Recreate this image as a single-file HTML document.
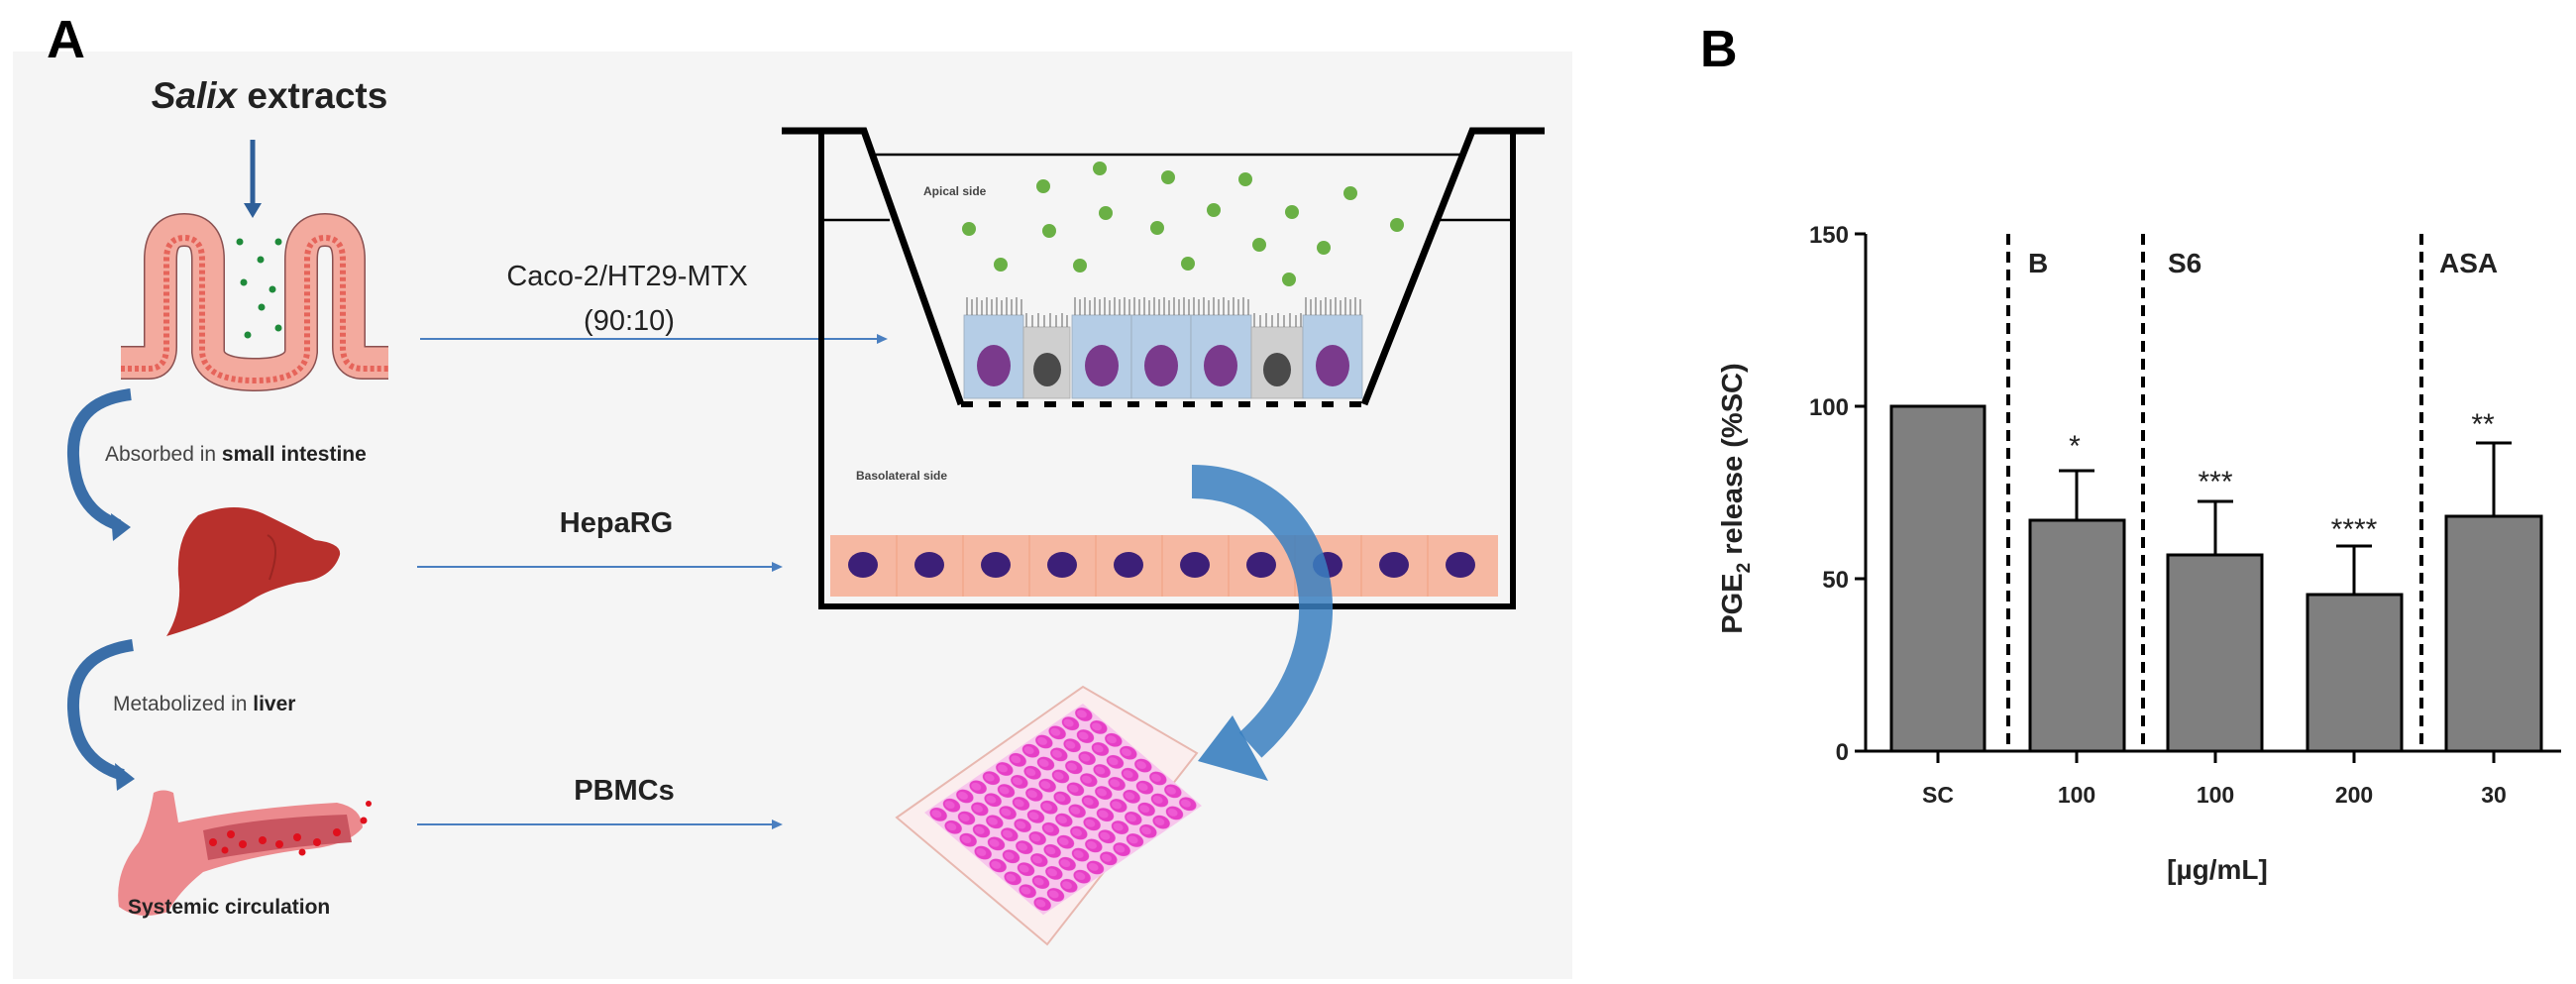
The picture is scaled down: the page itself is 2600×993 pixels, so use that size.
<!DOCTYPE html>
<html><head><meta charset="utf-8"><style>
html,body{margin:0;padding:0;background:#fff;}
svg{display:block;}
.a{font-family:"Liberation Sans",sans-serif;}
</style></head><body>
<svg width="2600" height="993" viewBox="0 0 2600 993" xmlns="http://www.w3.org/2000/svg" class="a">
<defs>
<pattern id="wells" patternUnits="userSpaceOnUse" width="1" height="1">
<rect width="1" height="1" fill="#f7c6ec"/>
<circle cx="0.5" cy="0.5" r="0.43" fill="#e63fc6"/>
<circle cx="0.45" cy="0.42" r="0.25" fill="#ee5ad3"/>
</pattern>
</defs>
<rect x="13" y="52" width="1574" height="936" fill="#f5f5f5"/>
<text x="47" y="58" font-size="54" font-weight="bold" fill="#000">A</text>

<text x="272" y="109" font-size="37" font-weight="bold" text-anchor="middle" fill="#222"><tspan font-style="italic">Salix</tspan> extracts</text>
<line x1="255" y1="141" x2="255" y2="208" stroke="#2e5f99" stroke-width="5"/>
<polygon points="246,205 264,205 255,220" fill="#2e5f99"/>

<path d="M122,366 L150,366 Q162,366 162,350 L162,262 Q162,232 186,232 Q210,232 210,262 L210,355 Q212,378 257,378 Q302,378 304,355 L304,262 Q304,232 328,232 Q352,232 352,262 L352,350 Q352,366 366,366 L392,366" fill="none" stroke="#8a5050" stroke-width="34"/>
<path d="M122,366 L150,366 Q162,366 162,350 L162,262 Q162,232 186,232 Q210,232 210,262 L210,355 Q212,378 257,378 Q302,378 304,355 L304,262 Q304,232 328,232 Q352,232 352,262 L352,350 Q352,366 366,366 L392,366" fill="none" stroke="#f3aa9e" stroke-width="31"/>
<path d="M122,372 L150,372 Q168,372 168,350 L168,262 Q168,240 186,240 Q204,240 204,262 L204,355 Q206,384 257,384 Q308,384 310,355 L310,262 Q310,240 328,240 Q346,240 346,262 L346,350 Q346,372 366,372 L392,372" fill="none" stroke="#e6645a" stroke-width="6" stroke-dasharray="4 3"/>
<g fill="#1f8a3a"><circle cx="242" cy="244" r="3.5"/><circle cx="281" cy="244" r="3.5"/><circle cx="263" cy="262" r="3.5"/><circle cx="246" cy="285" r="3.5"/><circle cx="275" cy="292" r="3.5"/><circle cx="264" cy="310" r="3.5"/><circle cx="250" cy="338" r="3.5"/><circle cx="281" cy="331" r="3.5"/></g>

<path d="M132,398 Q72,405 74,460 Q76,515 120,530" fill="none" stroke="#3a6ea8" stroke-width="12"/>
<polygon points="112,518 132,532 114,546" fill="#3a6ea8"/>
<text x="106" y="465" font-size="21" fill="#444">Absorbed in <tspan font-weight="bold" fill="#222">small intestine</tspan></text>

<path d="M200,520 Q235,505 265,518 Q300,535 318,545 Q345,548 343,560 Q335,585 300,588 Q270,595 255,605 Q225,625 168,642 Q185,615 180,580 Q178,540 200,520 Z" fill="#b8302c"/>
<path d="M270,540 Q285,548 272,585" fill="none" stroke="#9a2622" stroke-width="2"/>

<path d="M134,651 Q72,660 74,715 Q76,768 124,782" fill="none" stroke="#3a6ea8" stroke-width="12"/>
<polygon points="116,770 136,786 118,798" fill="#3a6ea8"/>
<text x="114" y="717" font-size="21" fill="#444">Metabolized in <tspan font-weight="bold" fill="#222">liver</tspan></text>

<path d="M155,800 Q165,795 175,800 L180,830 Q250,815 340,810 Q365,815 366,835 Q350,855 300,858 Q250,865 205,880 Q180,900 170,920 Q140,930 120,915 Q115,880 140,850 Q150,830 155,800 Z" fill="#ec8a8e"/>
<path d="M205,838 Q260,825 350,822 L355,850 Q280,855 210,868 Z" fill="#c95560"/>
<g fill="#e0101c"><circle cx="215" cy="850" r="4"/><circle cx="233" cy="842" r="4"/><circle cx="245" cy="852" r="4"/><circle cx="265" cy="848" r="4"/><circle cx="282" cy="852" r="4"/><circle cx="300" cy="845" r="4"/><circle cx="320" cy="850" r="4"/><circle cx="340" cy="840" r="4"/><circle cx="367" cy="828" r="3.5"/><circle cx="372" cy="811" r="3"/><circle cx="227" cy="858" r="3.5"/><circle cx="305" cy="860" r="3.5"/></g>
<text x="129" y="922" font-size="21" font-weight="bold" fill="#222">Systemic circulation</text>

<text x="633" y="288" font-size="29" text-anchor="middle" fill="#222">Caco-2/HT29-MTX</text>
<text x="635" y="333" font-size="29" text-anchor="middle" fill="#222">(90:10)</text>
<line x1="424" y1="342" x2="888" y2="342" stroke="#4a7fc0" stroke-width="2"/>
<polygon points="885,337 896,342 885,347" fill="#4a7fc0"/>
<text x="622" y="537" font-size="29" font-weight="bold" text-anchor="middle" fill="#222">HepaRG</text>
<line x1="421" y1="572" x2="782" y2="572" stroke="#4a7fc0" stroke-width="2"/>
<polygon points="779,567 790,572 779,577" fill="#4a7fc0"/>
<text x="630" y="807" font-size="29" font-weight="bold" text-anchor="middle" fill="#222">PBMCs</text>
<line x1="421" y1="832" x2="782" y2="832" stroke="#4a7fc0" stroke-width="2"/>
<polygon points="779,827 790,832 779,837" fill="#4a7fc0"/>

<g stroke="#000" fill="none">
<polyline points="789,132 872,132 970,408" stroke-width="7"/>
<polyline points="1559,132 1486,132 1377,408" stroke-width="7"/>
<line x1="829" y1="132" x2="829" y2="613" stroke-width="6"/>
<line x1="1527" y1="132" x2="1527" y2="613" stroke-width="6"/>
<line x1="826" y1="612" x2="1530" y2="612" stroke-width="6"/>
<line x1="884" y1="156" x2="1475" y2="156" stroke-width="2.5"/>
<line x1="831" y1="222" x2="898" y2="222" stroke-width="2.5"/>
<line x1="1452" y1="222" x2="1527" y2="222" stroke-width="2.5"/>
<line x1="970" y1="408" x2="1380" y2="408" stroke-width="6" stroke-dasharray="12 16"/>
</g>
<text x="932" y="197" font-size="12" font-weight="bold" fill="#444">Apical side</text>
<g fill="#6ab045">
<circle cx="1110" cy="170" r="7"/><circle cx="1179" cy="179" r="7"/><circle cx="1257" cy="181" r="7"/><circle cx="1363" cy="195" r="7"/><circle cx="1053" cy="188" r="7"/><circle cx="978" cy="231" r="7"/><circle cx="1059" cy="233" r="7"/><circle cx="1116" cy="215" r="7"/><circle cx="1168" cy="230" r="7"/><circle cx="1225" cy="212" r="7"/><circle cx="1304" cy="214" r="7"/><circle cx="1410" cy="227" r="7"/><circle cx="1271" cy="247" r="7"/><circle cx="1336" cy="250" r="7"/><circle cx="1010" cy="267" r="7"/><circle cx="1090" cy="268" r="7"/><circle cx="1199" cy="266" r="7"/><circle cx="1301" cy="282" r="7"/>
</g>
<g>
<rect x="973" y="318" width="60" height="84" fill="#b5cde6" stroke="#9ab" stroke-width="0.8"/>
<rect x="1033" y="330" width="47" height="72" fill="#cfcfcf" stroke="#aaa" stroke-width="0.8"/>
<rect x="1082" y="318" width="60" height="84" fill="#b5cde6" stroke="#9ab" stroke-width="0.8"/>
<rect x="1142" y="318" width="60" height="84" fill="#b5cde6" stroke="#9ab" stroke-width="0.8"/>
<rect x="1202" y="318" width="61" height="84" fill="#b5cde6" stroke="#9ab" stroke-width="0.8"/>
<rect x="1263" y="330" width="52" height="72" fill="#cfcfcf" stroke="#aaa" stroke-width="0.8"/>
<rect x="1315" y="318" width="60" height="84" fill="#b5cde6" stroke="#9ab" stroke-width="0.8"/>
<g stroke="#777" stroke-width="1.2">
<path d="M976,318V300M981,318V302M986,318V300M991,318V303M996,318V300M1001,318V302M1006,318V300M1011,318V303M1016,318V300M1021,318V302M1026,318V300M1031,318V302"/>
<path d="M1036,330V316M1042,330V318M1048,330V316M1054,330V318M1060,330V316M1066,330V318M1072,330V316M1077,330V318"/>
<path d="M1085,318V300M1090,318V302M1095,318V300M1100,318V303M1105,318V300M1110,318V302M1115,318V300M1120,318V303M1125,318V300M1130,318V302M1135,318V300M1140,318V302"/>
<path d="M1145,318V300M1150,318V302M1155,318V300M1160,318V303M1165,318V300M1170,318V302M1175,318V300M1180,318V303M1185,318V300M1190,318V302M1195,318V300M1200,318V302"/>
<path d="M1205,318V300M1210,318V302M1215,318V300M1220,318V303M1225,318V300M1230,318V302M1235,318V300M1240,318V303M1245,318V300M1250,318V302M1255,318V300M1260,318V302"/>
<path d="M1266,330V316M1272,330V318M1278,330V316M1284,330V318M1290,330V316M1296,330V318M1302,330V316M1308,330V318M1313,330V316"/>
<path d="M1318,318V300M1323,318V302M1328,318V300M1333,318V303M1338,318V300M1343,318V302M1348,318V300M1353,318V303M1358,318V300M1363,318V302M1368,318V300M1373,318V302"/>
</g>
<g fill="#7a3a8c"><ellipse cx="1003" cy="369" rx="17" ry="21"/><ellipse cx="1112" cy="369" rx="17" ry="21"/><ellipse cx="1172" cy="369" rx="17" ry="21"/><ellipse cx="1232" cy="369" rx="17" ry="21"/><ellipse cx="1345" cy="369" rx="17" ry="21"/></g>
<g fill="#4a4a4a"><ellipse cx="1057" cy="373" rx="14" ry="17"/><ellipse cx="1289" cy="373" rx="14" ry="17"/></g>
</g>
<text x="864" y="484" font-size="12" font-weight="bold" fill="#444">Basolateral side</text>
<rect x="838" y="540" width="674" height="62" fill="#f6b8a2"/>
<g stroke="#f0a080" stroke-width="1"><path d="M905,540V602M972,540V602M1039,540V602M1106,540V602M1173,540V602M1240,540V602M1307,540V602M1374,540V602M1441,540V602"/></g>
<g fill="#3c1f78"><ellipse cx="871" cy="570" rx="15" ry="13"/><ellipse cx="938" cy="570" rx="15" ry="13"/><ellipse cx="1005" cy="570" rx="15" ry="13"/><ellipse cx="1072" cy="570" rx="15" ry="13"/><ellipse cx="1139" cy="570" rx="15" ry="13"/><ellipse cx="1206" cy="570" rx="15" ry="13"/><ellipse cx="1273" cy="570" rx="15" ry="13"/><ellipse cx="1340" cy="570" rx="15" ry="13"/><ellipse cx="1407" cy="570" rx="15" ry="13"/><ellipse cx="1474" cy="570" rx="15" ry="13"/></g>

<polygon points="905,825 1093,693 1208,760 1057,953" fill="#fbeeee" stroke="#e8b8b0" stroke-width="2"/>
<g transform="matrix(13.33,-9.17,15,12.9,933,820)">
<rect x="0" y="0" width="12" height="8" fill="url(#wells)"/>
</g>

<path d="M1203,486 C1335,486 1375,650 1262,752" fill="none" stroke="#3a7fc0" stroke-opacity="0.85" stroke-width="34"/>
<polygon points="1244,722 1280,788 1209,768" fill="#3a7fc0" fill-opacity="0.9"/>

<text x="1716" y="67" font-size="52" font-weight="bold" fill="#000">B</text>
<g stroke="#000" stroke-width="3" fill="none">
<line x1="1883" y1="236" x2="1883" y2="759"/>
<line x1="1872" y1="236" x2="1883" y2="236"/>
<line x1="1872" y1="410" x2="1883" y2="410"/>
<line x1="1872" y1="584" x2="1883" y2="584"/>
<line x1="1872" y1="758" x2="2585" y2="758"/>
<line x1="1956" y1="758" x2="1956" y2="770"/>
<line x1="2096" y1="758" x2="2096" y2="770"/>
<line x1="2236" y1="758" x2="2236" y2="770"/>
<line x1="2376" y1="758" x2="2376" y2="770"/>
<line x1="2517" y1="758" x2="2517" y2="770"/>
</g>
<g font-size="24" font-weight="bold" text-anchor="end" fill="#222">
<text x="1866" y="245">150</text><text x="1866" y="419">100</text><text x="1866" y="593">50</text><text x="1866" y="767">0</text>
</g>
<g stroke="#000" stroke-width="4" stroke-dasharray="11 7"><line x1="2027" y1="236" x2="2027" y2="758"/><line x1="2163" y1="236" x2="2163" y2="758"/><line x1="2444" y1="236" x2="2444" y2="758"/></g>
<g fill="#7f7f7f" stroke="#000" stroke-width="3">
<rect x="1909" y="410" width="94" height="348"/>
<rect x="2049" y="525" width="95" height="233"/>
<rect x="2188" y="560" width="95" height="198"/>
<rect x="2329" y="600" width="95" height="158"/>
<rect x="2469" y="521" width="96" height="237"/>
</g>
<g stroke="#000" stroke-width="3">
<line x1="2096" y1="525" x2="2096" y2="475"/><line x1="2078" y1="475" x2="2114" y2="475"/>
<line x1="2236" y1="560" x2="2236" y2="506"/><line x1="2218" y1="506" x2="2254" y2="506"/>
<line x1="2376" y1="600" x2="2376" y2="551"/><line x1="2358" y1="551" x2="2394" y2="551"/>
<line x1="2517" y1="521" x2="2517" y2="447"/><line x1="2499" y1="447" x2="2535" y2="447"/>
</g>
<g font-size="30" text-anchor="middle" fill="#222">
<text x="2094" y="460">*</text><text x="2236" y="496">***</text><text x="2376" y="544">****</text><text x="2506" y="438">**</text>
</g>
<g font-size="28" font-weight="bold" fill="#222">
<text x="2047" y="275">B</text><text x="2188" y="275">S6</text><text x="2462" y="275">ASA</text>
</g>
<g font-size="23" font-weight="bold" text-anchor="middle" fill="#222">
<text x="1956" y="810">SC</text><text x="2096" y="810">100</text><text x="2236" y="810">100</text><text x="2376" y="810">200</text><text x="2517" y="810">30</text>
</g>
<text x="2238" y="887" font-size="28" font-weight="bold" text-anchor="middle" fill="#222">[µg/mL]</text>
<text transform="translate(1758,503) rotate(-90)" font-size="29" font-weight="bold" text-anchor="middle" fill="#222">PGE<tspan font-size="19" dy="8">2</tspan><tspan dy="-8"> release (%SC)</tspan></text>
</svg>
</body></html>
